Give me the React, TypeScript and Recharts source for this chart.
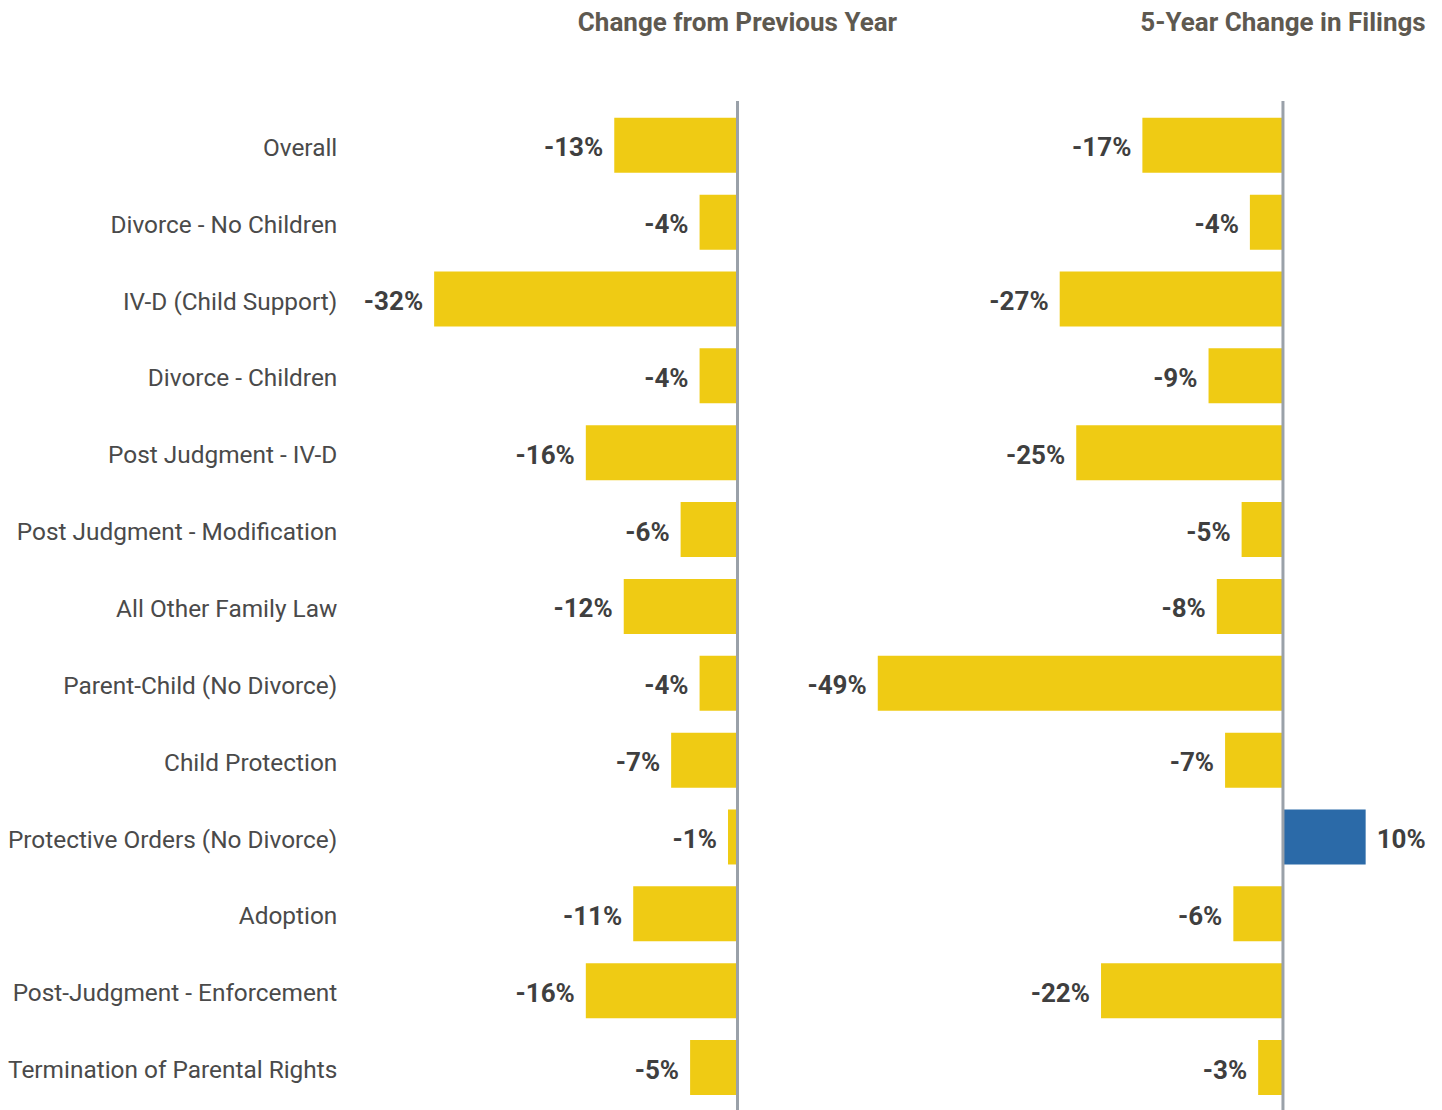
import { BarChart, Bar, XAxis, YAxis, ReferenceLine, LabelList, Cell } from "recharts";

const categories = [
  "Overall",
  "Divorce - No Children",
  "IV-D (Child Support)",
  "Divorce - Children",
  "Post Judgment - IV-D",
  "Post Judgment - Modification",
  "All Other Family Law",
  "Parent-Child (No Divorce)",
  "Child Protection",
  "Protective Orders (No Divorce)",
  "Adoption",
  "Post-Judgment - Enforcement",
  "Termination of Parental Rights",
];
const prevYear = [-13, -4, -32, -4, -16, -6, -12, -4, -7, -1, -11, -16, -5];
const fiveYear = [-17, -4, -27, -9, -25, -5, -8, -49, -7, 10, -6, -22, -3];
const titles = ["Change from Previous Year", "5-Year Change in Filings"];

const data = categories.map((name, i) => ({ name, prev: prevYear[i], five: fiveYear[i] }));

const YELLOW = "#efcb14";
const BLUE = "#2b6aa8";
const AXIS = "#9aa1a9";
const FONT = "Roboto, 'Noto Sans', sans-serif";

const ValueLabel = (props: any) => {
  const { x, y, width, height, value } = props;
  const left = Math.min(x, x + width);
  const right = Math.max(x, x + width);
  const neg = value < 0;
  return (
    <text
      x={neg ? left - 11 : right + 11}
      y={y + height / 2 + 2}
      textAnchor={neg ? "end" : "start"}
      dominantBaseline="central"
      fill="#3f3f3f"
      fontSize={26}
      fontWeight={700}
      fontFamily={FONT}
    >
      {value}%
    </text>
  );
};

const titleStyle = (cx: number): React.CSSProperties => ({
  position: "absolute",
  top: 7,
  left: cx - 200,
  width: 400,
  textAlign: "center",
  fontFamily: FONT,
  fontWeight: 700,
  fontSize: 26,
  color: "#5e5950",
});

export default function App() {
  return (
    <div style={{ position: "absolute", left: 0, top: 0, width: 1442, height: 1110, background: "#fff", overflow: "hidden" }}>
      <div style={titleStyle(737.5)}>{titles[0]}</div>
      <div style={titleStyle(1283)}>{titles[1]}</div>

      <div style={{ position: "absolute", left: 0, top: 0 }}>
        <BarChart
          width={760}
          height={1110}
          data={data}
          layout="vertical"
          margin={{ top: 101, right: 22.5, bottom: 0, left: 0 }}
        >
          <XAxis type="number" domain={[-40, 0]} hide />
          <YAxis
            type="category"
            dataKey="name"
            width={358.3}
            axisLine={false}
            tickLine={false}
            tickSize={0}
            tickMargin={21}
            padding={{ top: 5.8, bottom: 4.1 }}
            interval={0}
            tick={{ fill: "#4a4a4a", fontSize: 24.4, fontFamily: FONT, dy: 2 }}
          />
          <Bar dataKey="prev" fill={YELLOW} barSize={55} isAnimationActive={false}>
            <LabelList dataKey="prev" content={ValueLabel} />
          </Bar>
          <ReferenceLine x={0} stroke={AXIS} strokeWidth={3} />
        </BarChart>
      </div>

      <div style={{ position: "absolute", left: 770, top: 0 }}>
        <BarChart
          width={672}
          height={1110}
          data={data}
          layout="vertical"
          margin={{ top: 101, right: 35, bottom: 0, left: 99.5 }}
        >
          <XAxis type="number" domain={[-50, 15]} hide />
          <YAxis type="category" dataKey="name" hide padding={{ top: 5.8, bottom: 4.1 }} />
          <Bar dataKey="five" barSize={55} isAnimationActive={false}>
            {data.map((d, i) => (
              <Cell key={i} fill={d.five < 0 ? YELLOW : BLUE} />
            ))}
            <LabelList dataKey="five" content={ValueLabel} />
          </Bar>
          <ReferenceLine x={0} stroke={AXIS} strokeWidth={3} />
        </BarChart>
      </div>
    </div>
  );
}
